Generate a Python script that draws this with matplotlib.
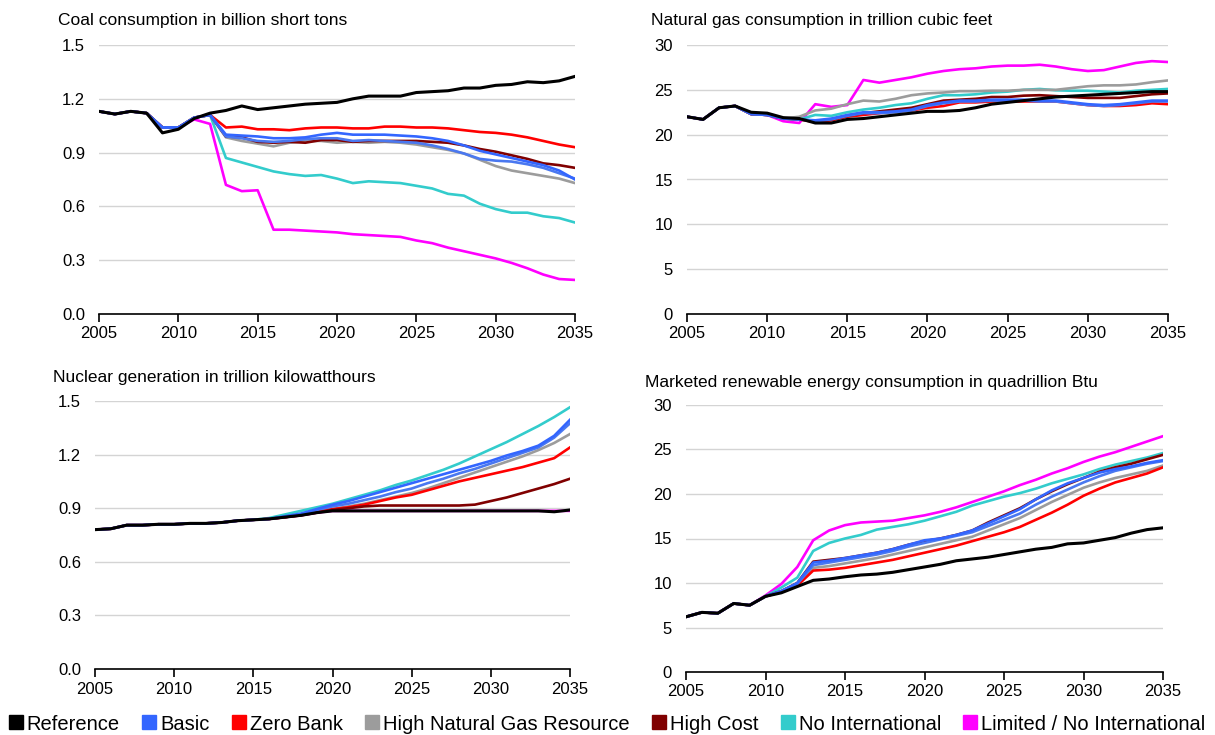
import matplotlib
matplotlib.use("Agg")
import matplotlib.pyplot as plt
from matplotlib.lines import Line2D

plt.rcParams['font.family'] = ['Liberation Sans', 'DejaVu Sans']

years = list(range(2005, 2036))

# coal consumption, billion short tons
coal_hist = [1.13, 1.115, 1.13, 1.12, 1.04, 1.04, 1.095, 1.11]
coal_reference = [1.13, 1.115, 1.13, 1.12, 1.01, 1.03, 1.09, 1.12, 1.135, 1.16, 1.14, 1.15, 1.16, 1.17,
                  1.175, 1.18, 1.20, 1.215, 1.215, 1.215, 1.235, 1.24, 1.245, 1.26, 1.26, 1.275, 1.28,
                  1.295, 1.29, 1.30, 1.325]
coal_basic = coal_hist + [1.0, 0.995, 0.99, 0.98, 0.98, 0.985, 1.0, 1.01, 1.0, 1.0, 1.0, 0.995, 0.99,
                          0.98, 0.965, 0.94, 0.91, 0.89, 0.87, 0.85, 0.83, 0.8, 0.75]
coal_basic2 = coal_hist + [0.99, 0.98, 0.965, 0.96, 0.965, 0.975, 0.98, 0.98, 0.965, 0.97, 0.965, 0.96,
                           0.955, 0.94, 0.92, 0.895, 0.865, 0.855, 0.85, 0.835, 0.815, 0.785, 0.755]
coal_zero_bank = coal_hist + [1.04, 1.045, 1.03, 1.03, 1.025, 1.035, 1.04, 1.04, 1.035, 1.035, 1.045,
                              1.045, 1.04, 1.04, 1.035, 1.025, 1.015, 1.01, 1.0, 0.985, 0.965, 0.945, 0.93]
coal_high_gas = coal_hist + [0.985, 0.965, 0.95, 0.935, 0.955, 0.965, 0.965, 0.955, 0.96, 0.955, 0.96,
                             0.955, 0.945, 0.93, 0.915, 0.895, 0.86, 0.825, 0.8, 0.785, 0.77, 0.755, 0.73]
coal_high_cost = coal_hist + [0.99, 0.985, 0.96, 0.955, 0.96, 0.955, 0.97, 0.97, 0.96, 0.965, 0.965,
                              0.965, 0.965, 0.96, 0.955, 0.94, 0.92, 0.905, 0.885, 0.865, 0.84, 0.83, 0.815]
coal_no_intl = coal_hist + [0.87, 0.845, 0.82, 0.795, 0.78, 0.77, 0.775, 0.755, 0.73, 0.74, 0.735, 0.73,
                            0.715, 0.7, 0.67, 0.66, 0.615, 0.585, 0.565, 0.565, 0.545, 0.535, 0.51]
coal_limited = coal_hist[:6] + [1.085, 1.06, 0.72, 0.685, 0.69, 0.47, 0.47, 0.465, 0.46, 0.455, 0.445,
                                0.44, 0.435, 0.43, 0.41, 0.395, 0.37, 0.35, 0.33, 0.31, 0.285, 0.255,
                                0.22, 0.195, 0.19]

# natural gas consumption, trillion cubic feet
gas_hist = [22.0, 21.7, 23.0, 23.2, 22.3, 22.2, 21.8, 21.7]
gas_reference = [22.0, 21.7, 23.0, 23.2, 22.5, 22.4, 21.9, 21.8, 21.3, 21.3, 21.7, 21.8, 22.0, 22.2,
                 22.4, 22.6, 22.6, 22.7, 23.0, 23.4, 23.6, 23.8, 24.0, 24.2, 24.3, 24.4, 24.5, 24.6,
                 24.7, 24.8, 24.8]
gas_basic = gas_hist + [21.6, 21.8, 22.2, 22.5, 22.5, 22.6, 22.8, 23.3, 23.6, 23.8, 23.8, 23.9, 23.9,
                        23.9, 23.8, 23.8, 23.6, 23.4, 23.3, 23.4, 23.6, 23.8, 23.8]
gas_basic2 = gas_hist + [21.5, 21.7, 22.1, 22.4, 22.4, 22.5, 22.7, 23.2, 23.5, 23.7, 23.7, 23.8, 23.8,
                         23.8, 23.7, 23.7, 23.5, 23.3, 23.2, 23.3, 23.5, 23.7, 23.7]
gas_zero_bank = gas_hist + [21.4, 21.6, 22.0, 22.2, 22.4, 22.6, 22.7, 23.0, 23.2, 23.6, 23.6, 23.7, 23.7,
                            23.7, 23.7, 23.7, 23.5, 23.3, 23.2, 23.2, 23.3, 23.5, 23.4]
gas_high_gas = gas_hist[:7] + [22.0, 22.7, 22.9, 23.4, 23.8, 23.7, 24.0, 24.4, 24.6, 24.7, 24.85, 24.85,
                               24.9, 24.9, 25.0, 25.0, 25.0, 25.2, 25.4, 25.5, 25.5, 25.6, 25.85, 26.05]
gas_high_cost = gas_hist + [21.5, 21.7, 22.1, 22.4, 22.6, 22.8, 23.0, 23.4, 23.8, 23.9, 24.0, 24.2, 24.2,
                            24.35, 24.4, 24.3, 24.2, 24.1, 24.1, 24.1, 24.3, 24.5, 24.6]
gas_no_intl = gas_hist + [22.2, 22.1, 22.5, 22.8, 23.0, 23.3, 23.5, 24.0, 24.4, 24.4, 24.5, 24.7, 24.8,
                          25.0, 25.1, 24.95, 24.9, 24.9, 24.8, 24.7, 24.9, 25.0, 25.1]
gas_limited = gas_hist[:6] + [21.5, 21.3, 23.4, 23.1, 23.3, 26.1, 25.8, 26.1, 26.4, 26.8, 27.1, 27.3,
                              27.4, 27.6, 27.7, 27.7, 27.8, 27.6, 27.3, 27.1, 27.2, 27.6, 28.0, 28.2, 28.1]

# nuclear generation, trillion kilowatthours
nuc_hist = [0.78, 0.785, 0.805, 0.805, 0.81, 0.81, 0.815, 0.815, 0.82, 0.83, 0.835]
nuc_reference = nuc_hist + [0.84, 0.85, 0.86, 0.875] + [0.885] * 14 + [0.88, 0.89]
nuc_basic = nuc_hist + [0.84, 0.855, 0.87, 0.895, 0.92, 0.94, 0.965, 0.99, 1.015, 1.04, 1.065, 1.09,
                        1.115, 1.14, 1.165, 1.195, 1.22, 1.25, 1.305, 1.395]
nuc_basic2 = nuc_hist + [0.84, 0.852, 0.865, 0.89, 0.91, 0.925, 0.945, 0.965, 0.99, 1.01, 1.04, 1.065,
                         1.095, 1.12, 1.15, 1.18, 1.21, 1.24, 1.295, 1.375]
nuc_zero_bank = nuc_hist + [0.84, 0.85, 0.862, 0.88, 0.895, 0.905, 0.92, 0.94, 0.96, 0.975, 1.0, 1.025,
                            1.05, 1.07, 1.09, 1.11, 1.13, 1.155, 1.18, 1.24]
nuc_high_gas = nuc_hist + [0.84, 0.85, 0.862, 0.88, 0.895, 0.91, 0.925, 0.945, 0.965, 0.985, 1.01, 1.04,
                           1.07, 1.1, 1.13, 1.16, 1.19, 1.225, 1.265, 1.315]
nuc_high_cost = nuc_hist + [0.84, 0.85, 0.86, 0.875, 0.89, 0.9, 0.91, 0.915, 0.915, 0.915, 0.915, 0.915,
                            0.915, 0.92, 0.94, 0.96, 0.985, 1.01, 1.035, 1.065]
nuc_no_intl = nuc_hist + [0.845, 0.865, 0.885, 0.905, 0.925, 0.95, 0.975, 1.0, 1.03, 1.055, 1.085, 1.115,
                          1.15, 1.19, 1.23, 1.27, 1.315, 1.36, 1.41, 1.465]
nuc_limited = nuc_hist + [0.84, 0.85, 0.86, 0.875] + [0.885] * 16

# marketed renewable energy consumption, quadrillion Btu
ren_hist = [6.2, 6.7, 6.6, 7.7, 7.5, 8.5]
ren_reference = ren_hist + [8.9, 9.6, 10.3, 10.45, 10.7, 10.9, 11.0, 11.2, 11.5, 11.8, 12.1, 12.5, 12.7,
                            12.9, 13.2, 13.5, 13.8, 14.0, 14.4, 14.5, 14.8, 15.1, 15.6, 16.0, 16.2]
ren_basic = ren_hist + [9.1, 10.0, 12.3, 12.5, 12.8, 13.1, 13.4, 13.8, 14.3, 14.8, 15.0, 15.4, 15.9,
                        16.7, 17.5, 18.3, 19.4, 20.4, 21.2, 21.8, 22.4, 22.8, 23.1, 23.5, 23.8]
ren_basic2 = ren_hist + [9.05, 9.9, 12.0, 12.3, 12.6, 12.9, 13.2, 13.6, 14.1, 14.5, 14.9, 15.3, 15.7,
                         16.4, 17.1, 17.8, 18.8, 19.7, 20.5, 21.3, 22.0, 22.6, 23.0, 23.4, 23.7]
ren_zero_bank = ren_hist + [9.0, 9.7, 11.4, 11.5, 11.7, 12.0, 12.3, 12.6, 13.0, 13.4, 13.8, 14.2, 14.7,
                            15.2, 15.7, 16.3, 17.1, 17.9, 18.8, 19.8, 20.6, 21.3, 21.8, 22.3, 23.0]
ren_high_gas = ren_hist + [9.0, 9.8, 11.7, 11.9, 12.2, 12.5, 12.8, 13.2, 13.6, 14.0, 14.4, 14.8, 15.2,
                           15.9, 16.6, 17.3, 18.2, 19.1, 19.9, 20.7, 21.3, 21.8, 22.2, 22.6, 23.2]
ren_high_cost = ren_hist + [9.1, 10.0, 12.4, 12.6, 12.8, 13.1, 13.4, 13.8, 14.3, 14.7, 15.0, 15.4, 15.9,
                            16.8, 17.6, 18.4, 19.4, 20.3, 21.1, 21.8, 22.5, 23.0, 23.4, 23.9, 24.4]
ren_no_intl = ren_hist + [9.5, 10.6, 13.6, 14.5, 15.0, 15.4, 16.0, 16.3, 16.6, 17.0, 17.5, 18.0, 18.7,
                          19.2, 19.7, 20.1, 20.6, 21.2, 21.7, 22.2, 22.8, 23.3, 23.7, 24.1, 24.6]
ren_limited = ren_hist[:5] + [8.6, 9.9, 11.8, 14.8, 15.9, 16.5, 16.8, 16.9, 17.0, 17.3, 17.6, 18.0, 18.5,
                              19.1, 19.7, 20.3, 21.0, 21.6, 22.3, 22.9, 23.6, 24.2, 24.7, 25.3, 25.9, 26.5]

scenario_names = ["Reference", "Basic", "Zero Bank", "High Natural Gas Resource", "High Cost",
                  "No International", "Limited / No International"]
colors = {"Reference": "#000000", "Basic": "#3366FF", "Basic2": "#4A78F0", "Zero Bank": "#FF0000",
          "High Natural Gas Resource": "#9C9C9C", "High Cost": "#800000",
          "No International": "#33CCCC", "Limited / No International": "#FF00FF"}

W, H = 1215, 735
fig = plt.figure(figsize=(W / 100, H / 100), dpi=100)


def px_axes(x0, x1, ytop, ybot):
    return fig.add_axes([x0 / W, 1 - ybot / H, (x1 - x0) / W, (ybot - ytop) / H])


def draw_panel(ax, series, ymax, ystep, fmt, title, tx, ty):
    # drawing order: scenarios first, reference on top
    order = ["Limited / No International", "No International", "High Natural Gas Resource",
             "Zero Bank", "High Cost", "Basic2", "Basic", "Reference"]
    for key in order:
        lw = 2.2 if key == "Reference" else 1.9
        ax.plot(years, series[key], color=colors[key], lw=lw, solid_joinstyle='round', zorder=3)
    ax.set_xlim(2005, 2035)
    ax.set_ylim(0, ymax)
    ticks = [i * ystep for i in range(int(round(ymax / ystep)) + 1)]
    ax.set_yticks(ticks)
    ax.set_yticklabels([fmt.format(t) for t in ticks])
    ax.set_xticks(range(2005, 2036, 5))
    ax.grid(axis='y', color='#d4d4d4', lw=1, zorder=0)
    for s in ['top', 'right', 'left']:
        ax.spines[s].set_visible(False)
    ax.spines['bottom'].set_color('black')
    ax.spines['bottom'].set_linewidth(1.2)
    ax.spines['bottom'].set_zorder(4)
    ax.tick_params(axis='y', length=0, pad=10, labelsize=12, colors='black')
    ax.tick_params(axis='x', direction='out', length=6, width=1.2, pad=3, labelsize=12)
    fig.text(tx / W, 1 - ty / H, title, fontsize=12.5, va='center', ha='left')


ax1 = px_axes(99, 575, 45, 314)
draw_panel(ax1, {"Reference": coal_reference, "Basic": coal_basic, "Basic2": coal_basic2,
                 "Zero Bank": coal_zero_bank, "High Natural Gas Resource": coal_high_gas,
                 "High Cost": coal_high_cost, "No International": coal_no_intl,
                 "Limited / No International": coal_limited},
           1.5, 0.3, "{:.1f}", "Coal consumption in billion short tons", 58, 20)

ax2 = px_axes(687, 1168, 45, 314)
draw_panel(ax2, {"Reference": gas_reference, "Basic": gas_basic, "Basic2": gas_basic2,
                 "Zero Bank": gas_zero_bank, "High Natural Gas Resource": gas_high_gas,
                 "High Cost": gas_high_cost, "No International": gas_no_intl,
                 "Limited / No International": gas_limited},
           30, 5, "{:.0f}", "Natural gas consumption in trillion cubic feet", 651, 20)

ax3 = px_axes(95, 570, 401, 669)
draw_panel(ax3, {"Reference": nuc_reference, "Basic": nuc_basic, "Basic2": nuc_basic2,
                 "Zero Bank": nuc_zero_bank, "High Natural Gas Resource": nuc_high_gas,
                 "High Cost": nuc_high_cost, "No International": nuc_no_intl,
                 "Limited / No International": nuc_limited},
           1.5, 0.3, "{:.1f}", "Nuclear generation in trillion kilowatthours", 53, 378)

ax4 = px_axes(686, 1163, 405, 672)
draw_panel(ax4, {"Reference": ren_reference, "Basic": ren_basic, "Basic2": ren_basic2,
                 "Zero Bank": ren_zero_bank, "High Natural Gas Resource": ren_high_gas,
                 "High Cost": ren_high_cost, "No International": ren_no_intl,
                 "Limited / No International": ren_limited},
           30, 5, "{:.0f}", "Marketed renewable energy consumption in quadrillion Btu", 645, 382)

# legend along the bottom edge
handles = [Line2D([], [], ls='none', marker='s', markersize=9.5, color=colors[n]) for n in scenario_names]
fig.legend(handles, scenario_names, loc='center', bbox_to_anchor=(0.5, 1 - 724 / H), ncol=7,
           frameon=False, fontsize=14.5, handlelength=0.6, handletextpad=0.25, columnspacing=1.15,
           borderaxespad=0)

fig.savefig("out.png", dpi=100)
